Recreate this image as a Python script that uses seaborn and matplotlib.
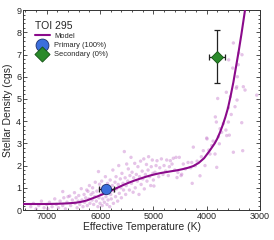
import numpy as np
import pandas as pd
import matplotlib
matplotlib.use("Agg")
import matplotlib.pyplot as plt
import seaborn as sns
from matplotlib.ticker import MultipleLocator

# ---- data ----
model_teff = [7440, 7000, 6800, 6600, 6450, 6350, 6250, 6150, 6050, 5950, 5850, 5750, 5650,
              5550, 5450, 5350, 5250, 5150, 5050, 4950, 4850, 4750, 4650, 4550, 4450, 4350,
              4250, 4150, 4050, 3950, 3850, 3800, 3750, 3700, 3650, 3600, 3550, 3500, 3450,
              3400, 3350, 3300, 3260, 3230]
model_rho = [0.27, 0.27, 0.28, 0.30, 0.33, 0.37, 0.43, 0.52, 0.61, 0.71, 0.81, 0.92, 1.03,
             1.14, 1.24, 1.33, 1.41, 1.49, 1.56, 1.62, 1.67, 1.71, 1.75, 1.79, 1.84, 1.90,
             1.98, 2.12, 2.33, 2.65, 3.0, 3.22, 3.5, 3.82, 4.18, 4.6, 5.15, 5.75, 6.45,
             7.15, 7.9, 8.7, 9.35, 9.8]

sample_teff = [7300, 7250, 7200, 7150, 7100, 7050, 7000, 6980, 6950, 6900, 6850, 6820, 6780, 6750,
               6700, 6700, 6680, 6650, 6620, 6600, 6570, 6550, 6520,
               6480, 6470, 6450, 6430, 6410, 6400, 6380, 6353, 6340, 6320, 6300, 6290, 6270, 6250,
               6240, 6227, 6210, 6200, 6190, 6170, 6150, 6140, 6133, 6120, 6100, 6090, 6070, 6060,
               6040, 6030, 6020, 6010, 6000, 6000,
               5980, 5970, 5960, 5950, 5940, 5920, 5910, 5900, 5890, 5870, 5860, 5850, 5840, 5820,
               5810, 5800, 5790, 5770, 5760, 5750, 5740, 5720, 5710, 5700, 5690, 5670, 5660, 5650,
               5640, 5620, 5610, 5600, 5590, 5570, 5560, 5545, 5530, 5520, 5510, 5501,
               5480, 5470, 5450, 5440, 5420, 5410, 5400, 5380, 5370, 5350, 5340, 5320, 5300, 5290,
               5270, 5260, 5240, 5230, 5210, 5200, 5180, 5170, 5150, 5130, 5120, 5100, 5090, 5070,
               5050, 5040, 5020, 5010, 5000,
               4990, 4970, 4950, 4932, 4900, 4880, 4850, 4820, 4800, 4770, 4750, 4720, 4700, 4682,
               4650, 4626, 4600, 4576, 4557, 4540, 4514, 4480, 4469, 4439, 4400, 4350, 4300, 4281,
               4272, 4251, 4214, 4180, 4126, 4100, 4064, 4032, 4000,
               3994, 3960, 3938, 3906, 3880, 3844, 3838, 3819, 3812, 3794, 3780, 3763, 3750, 3720,
               3688, 3640, 3625, 3632, 3594, 3594, 3588, 3576, 3557, 3540, 3512, 3500, 3500, 3469,
               3444, 3437, 3431, 3425, 3407, 3400, 3343, 3338, 3325, 3313, 3281, 3062]
sample_rho = [0.15, 0.3, 0.05, 0.2, 0.4, 0.1, 0.25, 0.05, 0.35, 0.15, 0.5, 0.25, 0.1, 0.4,
              0.83, 0.2, 0.55, 0.05, 0.35, 0.6, 0.63, 0.2, 0.45,
              0.78, 0.3, 0.55, 0.1, 0.4, 0.65, 0.25, 0.96, 0.45, 0.15, 0.7, 0.35, 0.55, 0.9,
              0.2, 0.84, 0.5, 1.1, 0.3, 0.7, 0.45, 1.0, 0.78, 0.25, 0.6, 1.25, 0.4, 0.85,
              0.15, 1.73, 0.55, 1.16, 0.3, 0.95,
              0.7, 1.3, 0.2, 0.5, 1.05, 0.35, 0.8, 1.5, 0.6, 0.25, 1.2, 0.45, 0.9, 0.15,
              1.35, 0.7, 0.5, 1.1, 1.8, 0.3, 0.85, 1.25, 0.6, 1.5, 0.95, 0.4, 1.15, 2.0,
              0.75, 1.4, 1.0, 0.55, 1.65, 1.2, 0.9, 2.63, 1.45, 0.7, 1.1, 2.07,
              1.3, 1.85, 0.9, 1.55, 2.37, 1.2, 1.7, 0.8, 1.45, 2.1, 1.0, 1.6, 1.3, 1.95,
              0.7, 1.5, 2.2, 1.15, 1.75, 1.4, 2.3, 0.95, 1.6, 2.05, 1.3, 1.8, 2.4, 1.5,
              1.1, 1.95, 2.25, 1.65, 1.35,
              1.08, 1.7, 2.0, 2.22, 1.5, 1.9, 2.3, 1.6, 2.0, 1.75, 2.25, 1.55, 1.95, 2.22,
              2.07, 2.33, 1.8, 2.37, 1.46, 1.69, 2.37, 1.55, 1.61, 2.07, 1.85, 2.14, 1.9, 2.14,
              1.2, 2.83, 1.99, 2.2, 1.54, 2.4, 2.67, 2.0, 3.24,
              3.2, 2.7, 2.52, 2.9, 3.1, 2.52, 4.19, 3.96, 1.92, 5.02, 3.3, 2.98, 3.66, 3.5,
              3.89, 3.6, 3.35, 5.3, 3.96, 4.6, 6.76, 3.37, 5.1, 4.3, 6.39, 2.6, 7.52, 4.65,
              5.48, 5.55, 4.95, 6.0, 6.54, 7.07, 3.93, 6.99, 2.67, 5.55, 5.4, 5.17]

primary_teff = [5880]
primary_rho = [0.96]
primary_teff_err = [140]
primary_rho_err = [0.1]

secondary_teff = [3810]
secondary_rho = [6.9]
secondary_teff_err = [155]
secondary_rho_err = [1.2]

title = "TOI 295"
labels = ["Model", "Primary (100%)", "Secondary (0%)"]

# ---- plot ----
sns.set_style("white")
plt.rcParams['font.family'] = ['Liberation Sans', 'DejaVu Sans']

fig = plt.figure(figsize=(2.74, 2.40), dpi=100)
ax = fig.add_axes([0.085, 0.125, 0.864, 0.833])

df_s = pd.DataFrame({"teff": sample_teff, "rho": sample_rho})
sns.scatterplot(data=df_s, x="teff", y="rho", ax=ax, color="#c77ccc", alpha=0.45,
                s=6, edgecolor="none", linewidth=0, legend=False, zorder=1)

df_m = pd.DataFrame({"teff": model_teff, "rho": model_rho})
sns.lineplot(data=df_m, x="teff", y="rho", ax=ax, color="#8b0a8b", linewidth=1.5,
             sort=False, label=labels[0], zorder=3)

ax.errorbar(primary_teff, primary_rho, xerr=primary_teff_err, yerr=primary_rho_err,
            fmt="none", ecolor="#222222", elinewidth=0.9, capsize=2, capthick=0.9, zorder=4)
sns.scatterplot(x=primary_teff, y=primary_rho, ax=ax, marker="o", s=55, color="#3b6fdc",
                edgecolor="#1d2f6b", linewidth=0.6, label=labels[1], zorder=5)

ax.errorbar(secondary_teff, secondary_rho, xerr=secondary_teff_err, yerr=secondary_rho_err,
            fmt="none", ecolor="#222222", elinewidth=0.9, capsize=2, capthick=0.9, zorder=4)
sns.scatterplot(x=secondary_teff, y=secondary_rho, ax=ax, marker="D", s=38, color="#2a8a2a",
                edgecolor="#145214", linewidth=0.6, label=labels[2], zorder=5)

ax.set_xlim(7440, 3000)
ax.set_ylim(0, 9)
ax.xaxis.set_major_locator(MultipleLocator(1000))
ax.xaxis.set_minor_locator(MultipleLocator(200))
ax.yaxis.set_major_locator(MultipleLocator(1))
ax.yaxis.set_minor_locator(MultipleLocator(0.2))
ax.tick_params(which="both", direction="in", top=True, right=True, bottom=True, left=True,
               labelsize=6.5, pad=1.5, color="#333333", width=0.6)
ax.tick_params(which="major", length=3)
ax.tick_params(which="minor", length=1.6)
for sp in ax.spines.values():
    sp.set_color("#333333")
    sp.set_linewidth(0.7)

ax.set_xlabel("Effective Temperature (K)", fontsize=7.5, labelpad=1)
ax.set_ylabel("Stellar Density (cgs)", fontsize=7.5, labelpad=2)

leg = ax.legend(loc="upper left", bbox_to_anchor=(0.03, 0.97), frameon=False, title=title,
                fontsize=5.4, title_fontsize=7.5, handlelength=2.0, handletextpad=0.6,
                labelspacing=0.25, borderaxespad=0.2, markerscale=1.25)
leg._legend_box.align = "left"

fig.savefig("out.png", dpi=100)
